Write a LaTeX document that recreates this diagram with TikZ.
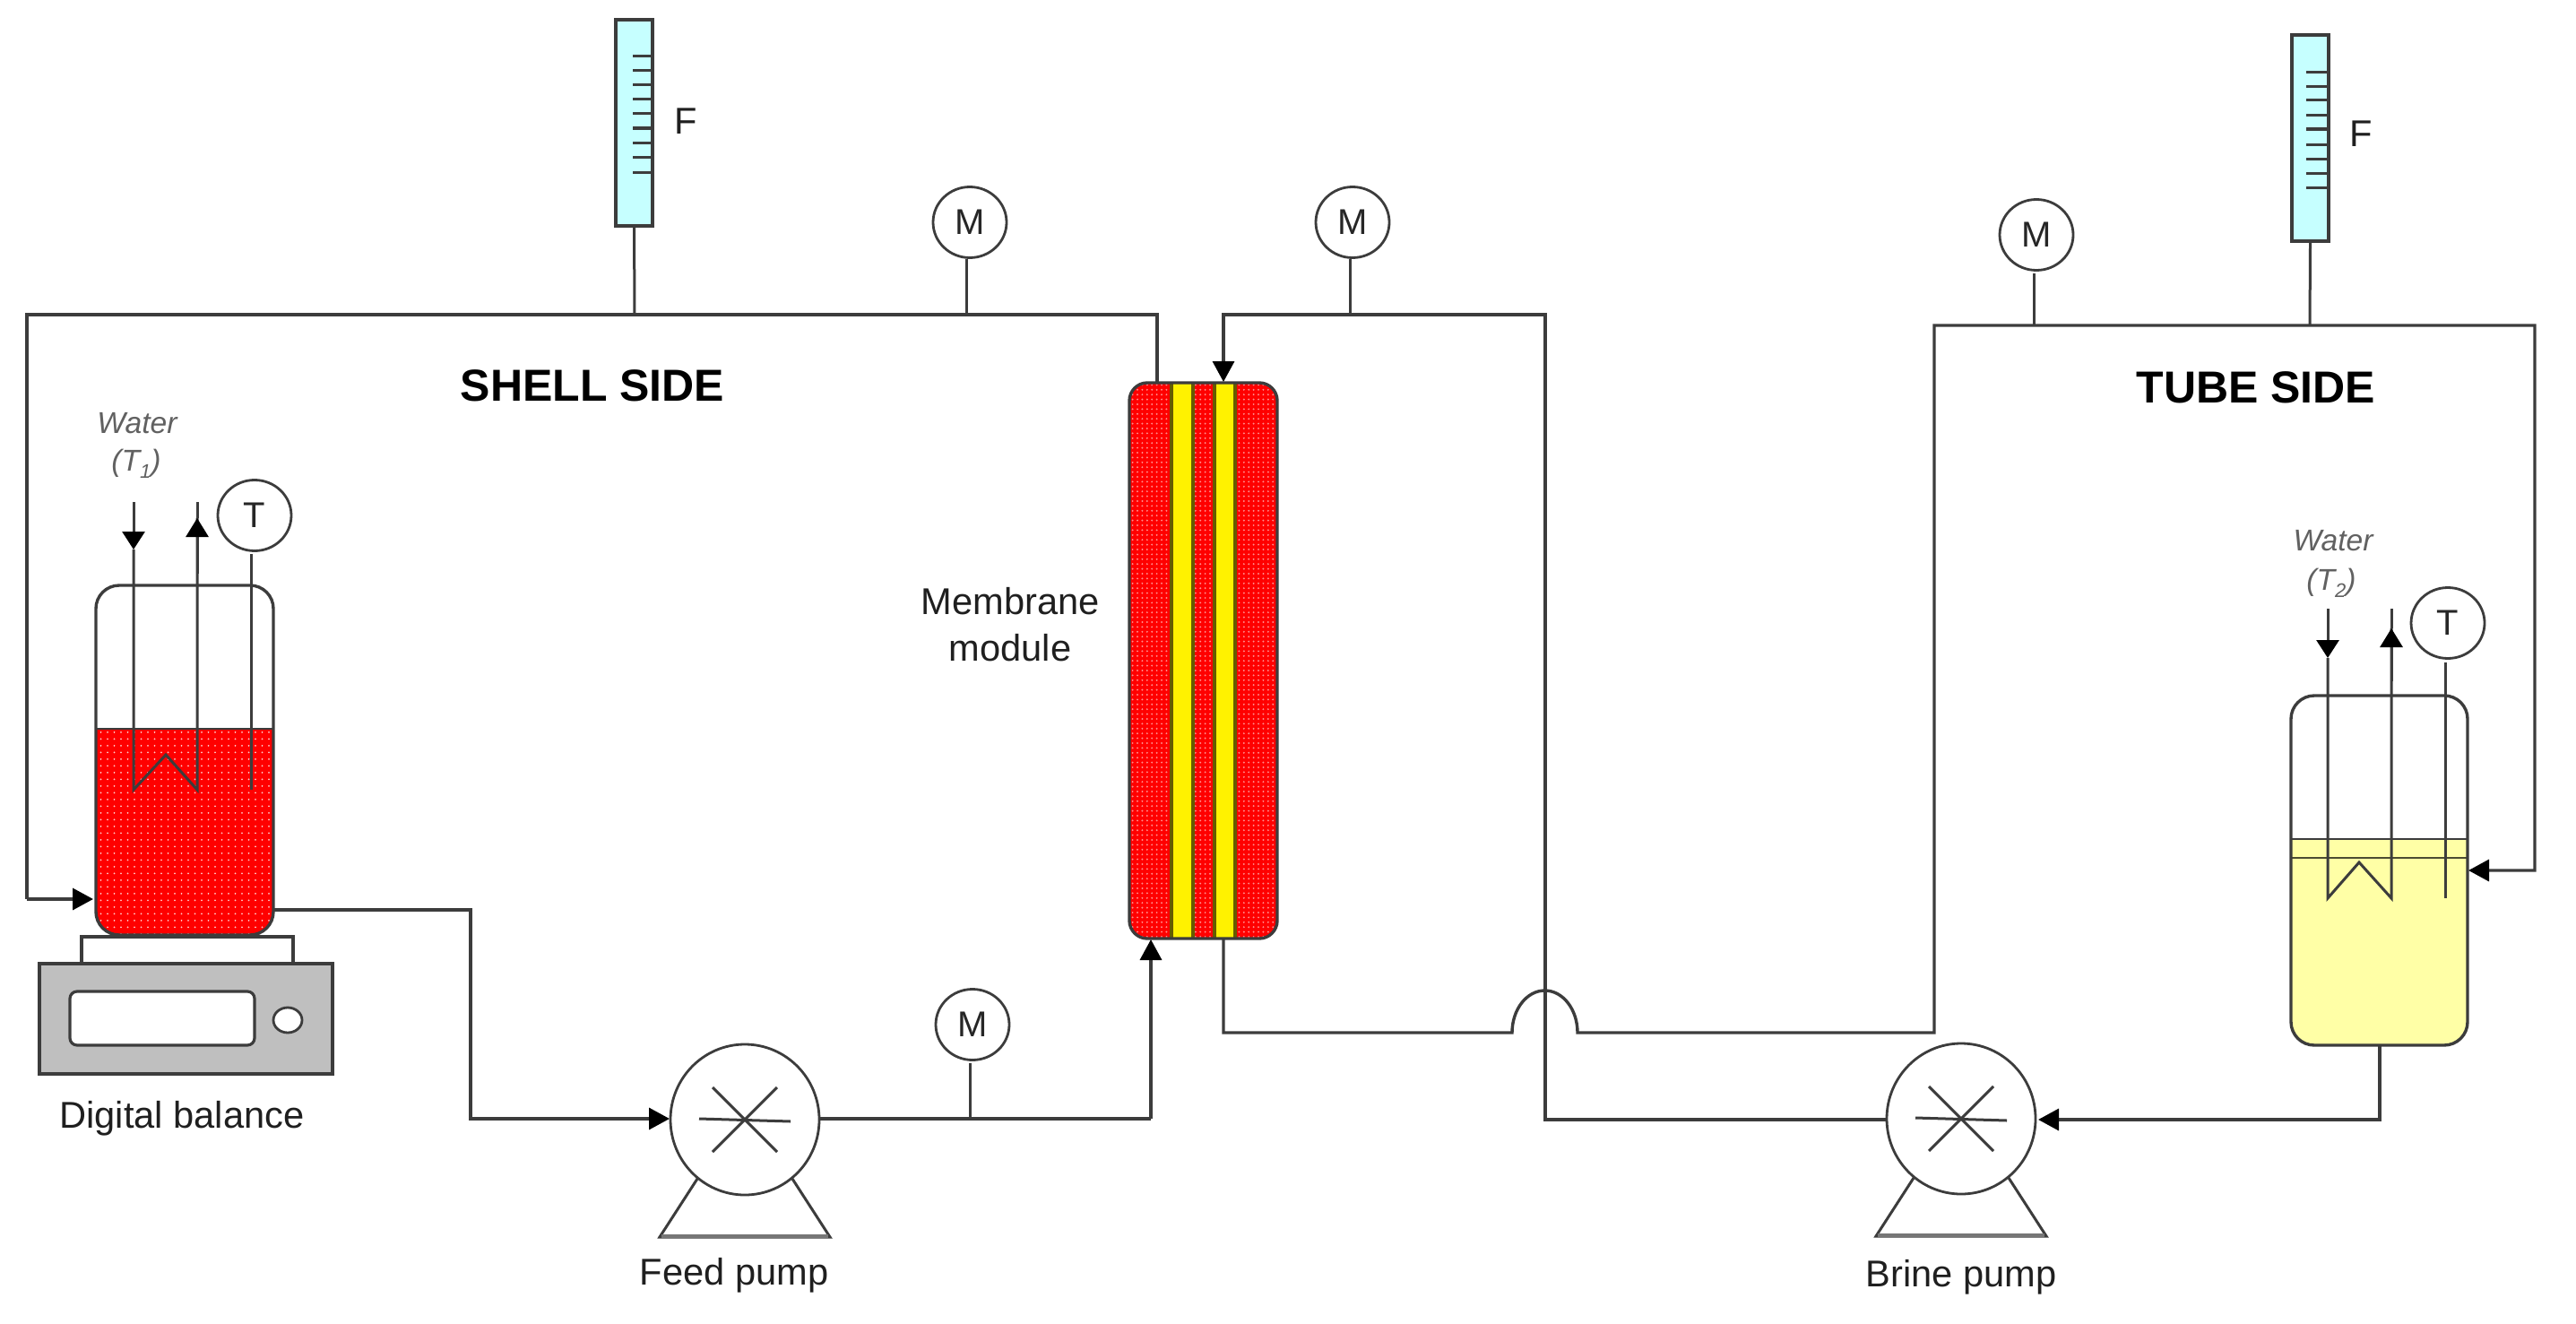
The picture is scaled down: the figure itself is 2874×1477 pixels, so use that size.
\documentclass[tikz,border=0pt]{standalone}
\usepackage{fontspec}
\setmainfont{Liberation Sans}
\usetikzlibrary{arrows.meta,patterns.meta,shapes.geometric}
\definecolor{ln}{HTML}{3C3C3C}
\definecolor{rota}{HTML}{C6FFFF}
\definecolor{pale}{HTML}{FFFFA6}
\definecolor{olive}{HTML}{665C00}
\tikzset{
  pipe/.style={draw=ln,line width=1.7pt,line join=miter},
  thin pipe/.style={draw=ln,line width=1.5pt},
  arr/.style={pipe,-{Triangle[length=11.5pt,width=12pt,color=black]}},
  gauge/.style={ellipse,draw=ln,line width=1.4pt,fill=white,minimum width=41pt,minimum height=39.5pt,inner sep=0pt,font=\fontsize{20pt}{24pt}\selectfont,text=black!85},
  pumpbody/.style={ellipse,draw=ln,line width=1.4pt,fill=white,minimum width=83pt,minimum height=84pt,inner sep=0pt},
  vessel/.style={rectangle,rounded corners=13pt,draw=ln,line width=1.7pt,inner sep=0pt,minimum width=99pt,minimum height=195pt},
  rotameter/.style={rectangle,draw=ln,line width=1.7pt,fill=rota,inner sep=0pt,minimum width=20.5pt,minimum height=115pt},
  label/.style={anchor=base,inner sep=0pt,font=\fontsize{20.8pt}{24pt}\selectfont,text=black!88},
  head/.style={anchor=base,inner sep=0pt,font=\fontsize{25pt}{28pt}\selectfont\bfseries},
  water/.style={anchor=base,inner sep=0pt,font=\fontsize{16.8pt}{20pt}\selectfont\itshape,text=black!62},
  redfill/.style={preaction={fill=red},pattern={Dots[distance=3.75pt,radius=.5pt]},pattern color=white!80!red},
  redfine/.style={preaction={fill=red},pattern={Dots[distance=2.7pt,radius=.55pt]},pattern color=white!55!red},
}
\newcommand{\pumpdetail}[1]{%
  \draw[thin pipe] ([shift={(-51,-1)}]#1.center) -- ([shift={(51,2)}]#1.center);
  \draw[thin pipe] ([shift={(-36,-36)}]#1.center) -- ([shift={(36,36)}]#1.center);
  \draw[thin pipe] ([shift={(36,-36)}]#1.center) -- ([shift={(-36,36)}]#1.center);
  \draw[thin pipe,line join=miter] ([shift={(-53,66)}]#1.center) -- ([shift={(-95,131)}]#1.center) -- ([shift={(95,131)}]#1.center) -- ([shift={(53,66)}]#1.center);
  \draw[draw=ln!70,line width=2.2pt] ([shift={(-93,130)}]#1.center) -- ([shift={(93,130)}]#1.center);
}
\newcommand{\ticks}[3]{% x0,x1,list of y
  \foreach \yy in {#3} {\draw[ln,line width=1.5pt] (#1,\yy) -- (#2,\yy);}
}
\newcommand{\wsub}[1]{(\textit{T}\raisebox{-.25em}{\fontsize{11pt}{12pt}\selectfont\itshape #1})}
\begin{document}
\begin{tikzpicture}[x=0.5pt,y=-0.5pt]
\useasboundingbox (0,0) rectangle (2874,1477);
\fill[white] (0,0) rectangle (2874,1477);

% junction points
\coordinate (a1) at (30,351);   \coordinate (a2) at (30,1003);  \coordinate (v1in) at (104,1003);
\coordinate (a3) at (1291,351); \coordinate (mtopL) at (1291,426);
\coordinate (b0) at (306,1015); \coordinate (b1) at (525,1015); \coordinate (b2) at (525,1248);
\coordinate (fpin) at (747,1248); \coordinate (fpout) at (915,1248);
\coordinate (c1) at (1284,1248); \coordinate (mbotL) at (1284,1048);
\coordinate (d0) at (2655,1166); \coordinate (d1) at (2655,1249); \coordinate (bpin) at (2274,1249);
\coordinate (bpout) at (2105,1249); \coordinate (e1) at (1724,1249); \coordinate (e2) at (1724,351);
\coordinate (e3) at (1365,351); \coordinate (mtopR) at (1365,426);
\coordinate (f0) at (1365,1047); \coordinate (f1) at (1365,1152); \coordinate (f2) at (1687,1152);
\coordinate (f3) at (2158,1152); \coordinate (f4) at (2158,363); \coordinate (f5) at (2828,363);
\coordinate (f6) at (2828,971); \coordinate (v2in) at (2754,971);

% balance
\node[rectangle,draw=ln,line width=1.7pt,fill=white,minimum width=118pt,minimum height=18pt,inner sep=0pt] (plat) at (209,1063) {};
\node[rectangle,draw=ln,line width=1.9pt,fill=black!25,minimum width=163.5pt,minimum height=61.5pt,inner sep=0pt] (bal) at (207.5,1136.5) {};
\node[rectangle,rounded corners=4pt,draw=ln,line width=1.6pt,fill=white,minimum width=103pt,minimum height=30pt,inner sep=0pt] (disp) at (181,1136) {};
\node[ellipse,draw=ln,line width=1.4pt,fill=white,minimum width=16pt,minimum height=14pt,inner sep=0pt] (knob) at (321,1138) {};

% vessel 1
\path[redfill,rounded corners=13pt] (107,813) [sharp corners] -- (107,900) [rounded corners=13pt] -- (107,1043) -- (305,1043) -- (305,900) [sharp corners] -- (305,813) -- cycle;
\draw[ln,line width=1.4pt] (107,813) -- (305,813);
\node[vessel] (v1) at (206,848) {};

% vessel 2
\path[fill=pale,rounded corners=13pt] (2556,936) [sharp corners] -- (2556,1050) [rounded corners=13pt] -- (2556,1166) -- (2753,1166) -- (2753,1050) [sharp corners] -- (2753,936) -- cycle;
\draw[ln,line width=1.4pt] (2556,936) -- (2753,936);
\draw[black!70!pale,line width=1.1pt] (2556,957) -- (2753,957);
\node[vessel,minimum width=98.5pt] (v2) at (2654.5,971) {};

% module
\path[redfine,rounded corners=10pt] (1260,427) rectangle (1425,1047);
\fill[yellow] (1306,427) rectangle (1332,1047);
\fill[yellow] (1354,427) rectangle (1379,1047);
\foreach \xx in {1307,1331,1355,1378} {\draw[olive,line width=1.7pt] (\xx,427) -- (\xx,1047);}
\node[rectangle,rounded corners=10pt,draw=ln,line width=1.7pt,inner sep=0pt,minimum width=82.5pt,minimum height=310pt] (mod) at (1342.5,737) {};

% rotameters
\node[rotameter] (rot1) at (707.5,137) {};
\node[rotameter] (rot2) at (2577.5,154) {};
\ticks{706}{727}{63,79,95,111,127,143,159,175,192}
\ticks{2573}{2596}{81,97,112,129,144,161,177,193,209}
\node[label] (F1) at (765,149) {F};
\node[label] (F2) at (2634.5,163) {F};

% gauges
\node[gauge] (M1) at (1082,248) {M};
\node[gauge] (M2) at (1509,248) {M};
\node[gauge] (M3) at (1085,1143) {M};
\node[gauge] (M4) at (2272,262) {M};
\node[gauge] (T1) at (284,575) {T};
\node[gauge] (T2) at (2731,695) {T};

% pumps
\node[pumpbody] (fp) at (831,1249) {};
\node[pumpbody] (bp) at (2188,1248) {};
\pumpdetail{fp}
\pumpdetail{bp}

% gauge stems
\coordinate (s1a) at (1078,289); \coordinate (s1b) at (1078,351);
\coordinate (s2a) at (1506,289); \coordinate (s2b) at (1506,351);
\coordinate (s3a) at (1082,1186); \coordinate (s3b) at (1082,1248);
\coordinate (s4a) at (2269,305); \coordinate (s4b) at (2269,363);
\coordinate (r1b) at (708,351); \coordinate (r2b) at (2577,363);
\draw[thin pipe] (s1a) -- (s1b);
\draw[thin pipe] (s2a) -- (s2b);
\draw[thin pipe] (s3a) -- (s3b);
\draw[thin pipe] (s4a) -- (s4b);
\draw[thin pipe] (rot1.south) -- (r1b);
\draw[thin pipe] (rot2.south) -- (r2b);

% pipes
\draw[pipe] (mtopL) -- (a3) -- (a1) -- (a2);
\draw[arr] (a2) -- (v1in);
\draw[arr] (b0) -- (b1) -- (b2) -- (fpin);
\draw[pipe] (fpout) -- (c1);
\draw[arr] (c1) -- (mbotL);
\draw[arr] (d0) -- (d1) -- (bpin);
\draw[arr] (bpout) -- (e1) -- (e2) -- (e3) -- (mtopR);
\draw[arr] (f0) -- (f1) -- (f2) arc[start angle=180,end angle=0,x radius=18.25pt,y radius=23.5pt] -- (f3) -- (f4) -- (f5) -- (f6) -- (v2in);

% cooling coil 1 and probe
\coordinate (w1a) at (149,560); \coordinate (w1b) at (149,613); \coordinate (w1c) at (149,881);
\coordinate (w1d) at (185,842); \coordinate (w1e) at (220,881); \coordinate (w1f) at (220,578); \coordinate (w1g) at (220,560);
\coordinate (p1a) at (280,618); \coordinate (p1b) at (280,881);
\draw[thin pipe,-{Triangle[length=10pt,width=12.5pt,color=black]}] (w1a) -- (w1b);
\draw[thin pipe,line join=miter] (w1b) -- (w1c) -- (w1d) -- (w1e) -- (w1f);
\draw[thin pipe,-{Triangle[length=10.5pt,width=12.5pt,color=black]}] (220,640) -- (w1f);
\draw[thin pipe] (w1f) -- (w1g);
\draw[thin pipe] (p1a) -- (p1b);

% cooling coil 2 and probe
\coordinate (w2a) at (2597,679); \coordinate (w2b) at (2597,734); \coordinate (w2c) at (2597,1002);
\coordinate (w2d) at (2632,962); \coordinate (w2e) at (2668,1002); \coordinate (w2f) at (2668,701); \coordinate (w2g) at (2668,679);
\coordinate (p2a) at (2728,739); \coordinate (p2b) at (2728,1002);
\draw[thin pipe,-{Triangle[length=10pt,width=12.5pt,color=black]}] (w2a) -- (w2b);
\draw[thin pipe,line join=miter] (w2b) -- (w2c) -- (w2d) -- (w2e) -- (w2f);
\draw[thin pipe,-{Triangle[length=10.5pt,width=12.5pt,color=black]}] (2668,760) -- (w2f);
\draw[thin pipe] (w2f) -- (w2g);
\draw[thin pipe] (p2a) -- (p2b);

% texts
\node[head] (shell) at (661,447) {SHELL SIDE};
\node[head] (tube) at (2517,449) {TUBE SIDE};
\node[label] (mem1) at (1127,685) {Membrane};
\node[label] (mem2) at (1127,737) {module};
\node[label] (dig) at (203,1258) {Digital balance};
\node[label] (feed) at (819,1433) {Feed pump};
\node[label] (brine) at (2188,1435) {Brine pump};
\node[water] (w1t) at (153,483) {Water};
\node[water] (w1u) at (152,525) {\wsub{1}};
\node[water] (w2t) at (2603,614) {Water};
\node[water] (w2u) at (2601,658) {\wsub{2}};
\end{tikzpicture}
\end{document}
